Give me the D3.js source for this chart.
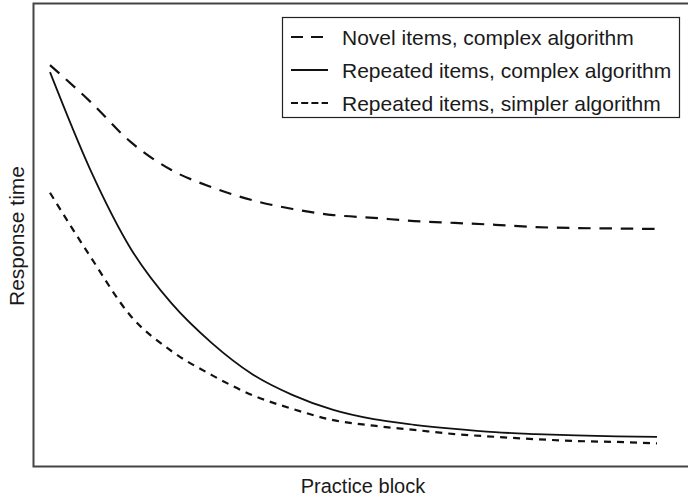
<!DOCTYPE html>
<html>
<head>
<meta charset="utf-8">
<script src="https://cdn.jsdelivr.net/npm/d3@7"></script>
<style>
  html, body { margin: 0; padding: 0; background: #fff; }
  svg { display: block; }
  text { font-family: "Liberation Sans", Arial, Helvetica, sans-serif; fill: #1a1a1a; }
</style>
</head>
<body>
<svg id="chart" width="688" height="498"></svg>
<script>
// Practice blocks along the x axis
const blocks = d3.range(1, 17);

// Response time (relative units, 0–100) per practice block
const novelComplex    = [86.6, 78.7, 70.0, 64.0, 60.3, 57.5, 55.6, 54.3, 53.7, 53.0, 52.6, 52.2, 51.7, 51.5, 51.4, 51.3];
const repeatedComplex = [85.1, 64.0, 47.0, 35.3, 26.7, 20.0, 15.5, 12.3, 10.3, 9.1, 8.2, 7.5, 7.1, 6.8, 6.6, 6.5];
const repeatedSimpler = [59.1, 45.3, 32.5, 25.0, 19.8, 15.5, 12.5, 10.1, 8.9, 8.0, 7.1, 6.5, 6.0, 5.6, 5.4, 5.1];

const seriesNames = [
  "Novel items, complex algorithm",
  "Repeated items, complex algorithm",
  "Repeated items, simpler algorithm"
];
const axisTitles = { x: "Practice block", y: "Response time" };

const series = [
  { name: seriesNames[0], values: novelComplex,    dash: "12.5,8.8", width: 2.2, legendDash: "12,8" },
  { name: seriesNames[1], values: repeatedComplex, dash: null,       width: 1.8, legendDash: null },
  { name: seriesNames[2], values: repeatedSimpler, dash: "7,6",      width: 2.2, legendDash: "7,3.2" }
];

const svg = d3.select("#chart");

// Plot frame
const frame = { left: 33.5, top: 3.5, right: 692, bottom: 466.5 };

const x = d3.scaleLinear().domain([1, 16]).range([50, 657]);
const y = d3.scaleLinear().domain([0, 100]).range([467, 3]);

svg.append("rect")
  .attr("x", frame.left).attr("y", frame.top)
  .attr("width", frame.right - frame.left).attr("height", frame.bottom - frame.top)
  .attr("fill", "none").attr("stroke", "#444").attr("stroke-width", 2);

const line = d3.line()
  .x((d, i) => x(blocks[i]))
  .y(d => y(d))
  .curve(d3.curveMonotoneX);

svg.append("g").selectAll("path")
  .data(series)
  .join("path")
  .attr("d", d => line(d.values))
  .attr("fill", "none")
  .attr("stroke", "#111")
  .attr("stroke-width", d => d.width)
  .attr("stroke-dasharray", d => d.dash);

// Legend
const legend = svg.append("g");
legend.append("rect")
  .attr("x", 282.5).attr("y", 17.5).attr("width", 397).attr("height", 100)
  .attr("fill", "#fff").attr("stroke", "#222").attr("stroke-width", 1.2);

const rowY = [37, 70, 103];
const rows = legend.selectAll("g.row")
  .data(series)
  .join("g")
  .attr("class", "row")
  .attr("transform", (d, i) => `translate(0,${rowY[i]})`);

rows.append("line")
  .attr("x1", 291).attr("x2", 328).attr("y1", 0).attr("y2", 0)
  .attr("stroke", "#111")
  .attr("stroke-width", d => d.width)
  .attr("stroke-dasharray", d => d.legendDash);

rows.append("text")
  .attr("x", 342).attr("y", 7.5)
  .attr("font-size", 21)
  .text(d => d.name);

// Axis titles
svg.append("text")
  .attr("x", 363).attr("y", 493)
  .attr("text-anchor", "middle")
  .attr("font-size", 20)
  .text(axisTitles.x);

svg.append("text")
  .attr("transform", "translate(24,236) rotate(-90)")
  .attr("text-anchor", "middle")
  .attr("font-size", 21)
  .text(axisTitles.y);
</script>
</body>
</html>
